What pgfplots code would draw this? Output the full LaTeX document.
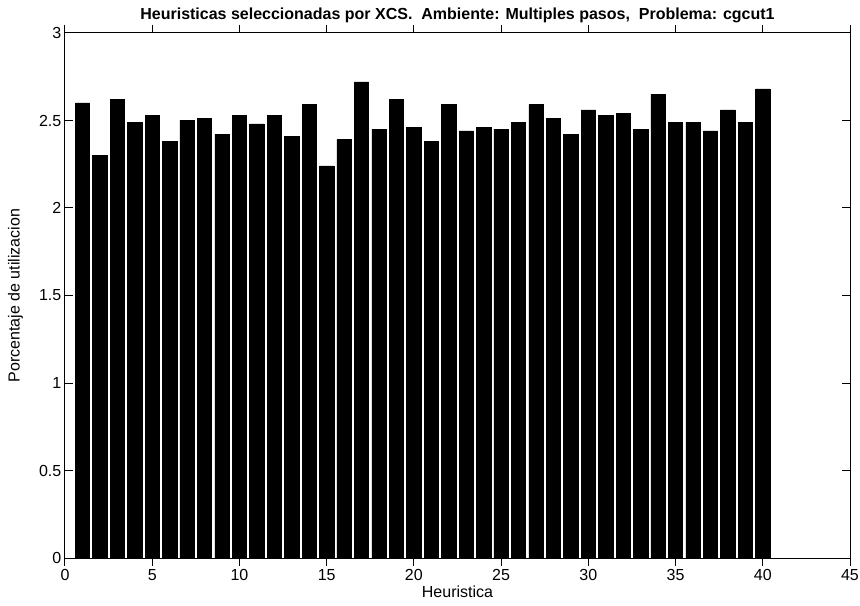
\documentclass[border=0pt]{standalone}
\usepackage{fontspec}
\setmainfont{Liberation Sans}
\usepackage{pgfplots}
\pgfplotsset{compat=1.18}
\usepackage{pgfplotstable}
\pgfplotstableread{
x y
1 2.60
2 2.30
3 2.62
4 2.49
5 2.53
6 2.38
7 2.50
8 2.51
9 2.42
10 2.53
11 2.48
12 2.53
13 2.41
14 2.59
15 2.24
16 2.39
17 2.72
18 2.45
19 2.62
20 2.46
21 2.38
22 2.59
23 2.44
24 2.46
25 2.45
26 2.49
27 2.59
28 2.51
29 2.42
30 2.56
31 2.53
32 2.54
33 2.45
34 2.65
35 2.49
36 2.49
37 2.44
38 2.56
39 2.49
40 2.68
}\datatable
\begin{document}
\fontsize{8}{9.6}\selectfont
\begin{tikzpicture}
\begin{axis}[
  scale only axis,
  width=392.5pt, height=262.5pt,
  xmin=0, xmax=45, ymin=0, ymax=3,
  xtick={0,5,...,45},
  ytick={0,0.5,1,1.5,2,2.5,3},
  tick align=inside,
  major tick length=4pt,
  axis line style={line width=0.5pt},
  every tick/.style={black, line width=0.5pt},
  /pgf/number format/assume math mode=true,
  ticklabel style={font=\fontsize{8}{9.6}\selectfont},
  xticklabel style={yshift=1pt},
  yticklabel style={xshift=1pt},
  title={\bfseries Heuristicas seleccionadas por XCS.\ \ Ambiente: Multiples pasos,\ \ Problema: cgcut1},
  title style={font=\fontsize{8}{9.6}\selectfont, yshift=-4pt},
  xlabel={Heuristica},
  ylabel={Porcentaje de utilizacion},
  label style={font=\fontsize{8}{9.6}\selectfont},
  xlabel style={yshift=3pt},
  ylabel style={yshift=2.5pt},
  ybar, bar width=0.82,
]
\addplot[fill=black, draw=black, line width=0.3pt] table[x=x,y=y] {\datatable};
\end{axis}
\pgfresetboundingbox
\path (-32.5pt,-23.5pt) rectangle (397.5pt,279pt);
\end{tikzpicture}
\end{document}
